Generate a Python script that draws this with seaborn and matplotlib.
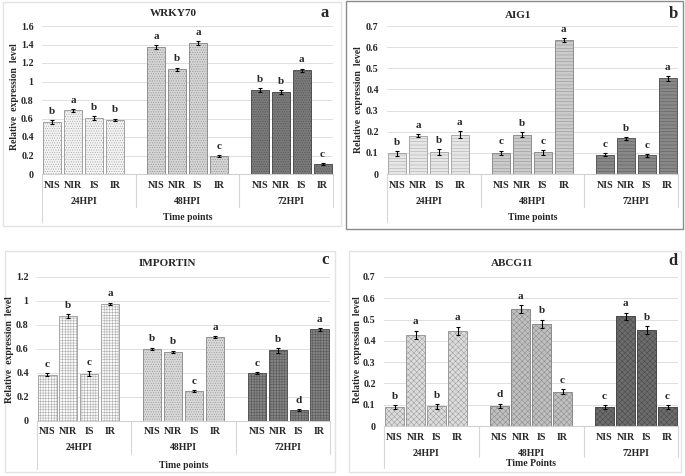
import numpy as np
import pandas as pd
import seaborn as sns
import matplotlib.pyplot as plt
from matplotlib.patches import Rectangle
from matplotlib.transforms import blended_transform_factory


# ----------------- Data -----------------
time_points = ["24HPI", "48HPI", "72HPI"]
treatments = ["NIS", "NIR", "IS", "IR"]

wrky70_mean = [0.565, 0.69, 0.605, 0.585, 1.37, 1.13, 1.42, 0.195, 0.905, 0.885, 1.12, 0.105]
wrky70_err = [0.02, 0.015, 0.025, 0.015, 0.02, 0.02, 0.02, 0.01, 0.02, 0.025, 0.02, 0.01]
wrky70_sig = ["b", "a", "b", "b", "a", "b", "a", "c", "b", "b", "a", "c"]

aig1_mean = [0.097, 0.182, 0.105, 0.186, 0.101, 0.185, 0.102, 0.632, 0.091, 0.168, 0.088, 0.452]
aig1_err = [0.01, 0.008, 0.013, 0.018, 0.01, 0.012, 0.01, 0.01, 0.008, 0.008, 0.008, 0.012]
aig1_sig = ["b", "a", "b", "a", "c", "b", "c", "a", "c", "b", "c", "a"]

importin_mean = [0.385, 0.875, 0.395, 0.975, 0.60, 0.575, 0.25, 0.70, 0.40, 0.59, 0.09, 0.765]
importin_err = [0.012, 0.015, 0.018, 0.012, 0.012, 0.012, 0.008, 0.01, 0.008, 0.02, 0.01, 0.012]
importin_sig = ["c", "b", "c", "a", "b", "b", "c", "a", "c", "b", "d", "a"]

abcg11_mean = [0.09, 0.428, 0.092, 0.447, 0.095, 0.55, 0.48, 0.16, 0.088, 0.515, 0.45, 0.09]
abcg11_err = [0.01, 0.02, 0.012, 0.02, 0.01, 0.02, 0.02, 0.012, 0.01, 0.018, 0.018, 0.01]
abcg11_sig = ["b", "a", "b", "a", "d", "a", "b", "c", "c", "a", "b", "c"]

# ----------------- Style -----------------
sns.set_style("white")
plt.rcParams["font.family"] = ["Liberation Serif", "DejaVu Serif"]
plt.rcParams["font.weight"] = "bold"
plt.rcParams["hatch.linewidth"] = 0.35

# per panel: (face, hatch/edge colour, hatch) for 24, 48, 72 HPI
styles_a = [("#f2f2f2", "#a0a0a0", "......."), ("#d4d4d4", "#909090", "......."), ("#7a7a7a", "#505050", ".......")]
styles_b = [("#e6e6e6", "#a8a8a8", "-----"), ("#cbcbcb", "#8e8e8e", "-----"), ("#888888", "#5a5a5a", "-----")]
styles_c = [("#fbfbfb", "#a6a6a6", "++++++"), ("#d8d8d8", "#939393", "......."), ("#838383", "#565656", "++++++")]
styles_d = [("#dcdcdc", "#9a9a9a", "xxxxxx"), ("#c0c0c0", "#8a8a8a", "xxxxxx"), ("#6c6c6c", "#484848", "xxxxxx")]

fig = plt.figure(figsize=(6.85, 4.76), dpi=100)
PX = 0.72  # pixels -> points at 100 dpi


def fx(px):
    return px / 685


def fy(py):
    return 1 - py / 476


def draw_panel(rect, mean, err, sig, ymax, ystep, styles, title, letter,
               title_xy, letter_xy, ylabel_x, ylabel_y, xlabel,
               tick_off, group_off, xlab_off, sep_off, outer_off):
    ax = fig.add_axes(rect)
    pos = [g * 5 + i for g in range(3) for i in range(4)]
    df = pd.DataFrame({
        "pos": pos,
        "value": mean,
        "time": [t for t in time_points for _ in treatments],
        "treatment": treatments * 3,
    })
    sns.barplot(data=df, x="pos", y="value", native_scale=True, width=0.87,
                errorbar=None, ax=ax, color="#cccccc")

    bars = sorted(ax.patches, key=lambda p: p.get_x())
    for k, bar in enumerate(bars):
        face, hcol, hatch = styles[k // 4]
        bar.set_facecolor(face)
        bar.set_edgecolor(hcol)
        bar.set_hatch(hatch)
        bar.set_linewidth(0.7)

    ax.errorbar(df["pos"], df["value"], yerr=err, fmt="none", ecolor="black",
                elinewidth=0.8, capsize=1.4, capthick=0.8)
    for x, v, e, s in zip(df["pos"], df["value"], err, sig):
        ax.annotate(s, (x, v + e), xytext=(0, 3), textcoords="offset points",
                    ha="center", va="bottom", fontsize=8, fontweight="bold")

    ticks = np.arange(0, ymax + ystep / 2, ystep)
    ax.set_xlim(-0.5, 13.5)
    ax.set_ylim(0, ymax)
    ax.set_yticks(ticks)
    ax.set_yticklabels([f"{t:g}" for t in ticks])
    ax.set_xticks([])
    ax.set_xlabel("")
    ax.set_ylabel("")
    ax.tick_params(axis="y", labelsize=7.2, length=0, pad=6)
    ax.yaxis.grid(True, color="#dedede", linewidth=0.7)
    ax.set_axisbelow(True)
    for side in ["left", "right", "top"]:
        ax.spines[side].set_visible(False)
    ax.spines["bottom"].set_color("#d0d0d0")
    ax.spines["bottom"].set_linewidth(0.8)

    # multi-level category axis
    trans = blended_transform_factory(ax.transData, ax.transAxes)
    for x, t in zip(df["pos"], df["treatment"]):
        ax.annotate(t, (x, 0), xycoords=trans, xytext=(0, -tick_off * PX),
                    textcoords="offset points", ha="center", va="center",
                    fontsize=7.2, fontweight="bold")
    for g, t in enumerate(time_points):
        ax.annotate(t, (g * 5 + 1.5, 0), xycoords=trans, xytext=(0, -group_off * PX),
                    textcoords="offset points", ha="center", va="center",
                    fontsize=7, fontweight="bold")
    ax.annotate(xlabel, (0.5, 0), xycoords="axes fraction", xytext=(0, -xlab_off * PX),
                textcoords="offset points", ha="center", va="center",
                fontsize=7, fontweight="bold")

    axis_h = rect[3] * 476
    for x, off in [(-0.5, outer_off), (4.0, sep_off), (9.0, sep_off), (13.5, sep_off)]:
        ax.plot([x, x], [0, -off / axis_h], transform=trans, color="#d6d6d6",
                linewidth=0.8, clip_on=False)

    fig.text(fx(title_xy[0]), fy(title_xy[1]), title, ha="center", va="center",
             fontsize=8, fontweight="bold")
    fig.text(fx(letter_xy[0]), fy(letter_xy[1]), letter, ha="center", va="center",
             fontsize=12, fontweight="bold")
    fig.text(fx(ylabel_x), fy(ylabel_y), "Relative  expression  level", rotation=90,
             ha="center", va="center", fontsize=7, fontweight="bold")
    return ax


# panel frames
frames = [
    (3, 2, 341, 226, "#e2e2e2"),
    (346, 1, 683, 229, "#8a8a8a"),
    (5, 251, 335, 472, "#e2e2e2"),
    (349, 251, 681, 472, "#e2e2e2"),
]
for x0, y0, x1, y1, col in frames:
    fig.patches.append(Rectangle((fx(x0), fy(y1)), fx(x1 - x0), (y1 - y0) / 476,
                                 transform=fig.transFigure, fill=False,
                                 edgecolor=col, linewidth=1.0))

draw_panel([fx(42), fy(174), fx(291), (174 - 26) / 476], wrky70_mean, wrky70_err, wrky70_sig,
           1.6, 0.2, styles_a, "WRKY70", "a", (173, 13), (325, 13), 15, 97, "Time points",
           11, 28, 44, 33, 48)
draw_panel([fx(387), fy(174), fx(291), (174 - 26) / 476], aig1_mean, aig1_err, aig1_sig,
           0.7, 0.1, styles_b, "AIG1", "b", (518, 15), (673, 14), 358, 100, "Time points",
           11, 28, 44, 33, 48)
draw_panel([fx(37), fy(421), fx(293), (421 - 277) / 476], importin_mean, importin_err, importin_sig,
           1.2, 0.2, styles_c, "IMPORTIN", "c", (167, 263), (325, 260), 10, 350, "Time points",
           11, 27, 44, 33, 48)
draw_panel([fx(384), fy(426), fx(294), (426 - 277) / 476], abcg11_mean, abcg11_err, abcg11_sig,
           0.7, 0.1, styles_d, "ABCG11", "d", (512, 263), (673, 261), 357, 350, "Time Points",
           11, 27, 38, 31, 42)

fig.savefig("out.png", dpi=100)
